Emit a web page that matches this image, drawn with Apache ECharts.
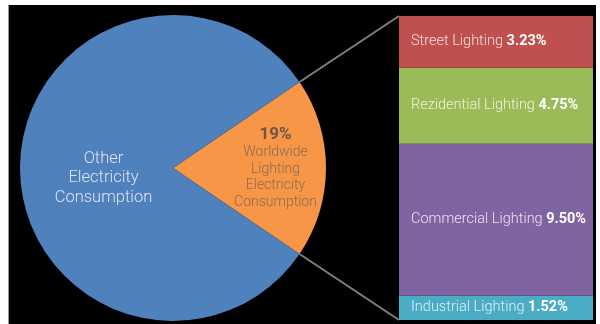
<!DOCTYPE html>
<html>
<head>
<meta charset="utf-8">
<script src="https://cdn.jsdelivr.net/npm/echarts@6/dist/echarts.min.js"></script>
<style>
  html, body { margin: 0; padding: 0; background: #fff; }
  #bg { position: absolute; left: 8px; top: 5px; width: 587px; height: 319px; background: #000; border-left: 1px solid #9a9a9a; }
  #chart { position: absolute; left: 0; top: 0; width: 600px; height: 324px; }
</style>
</head>
<body>
<div id="bg"></div>
<div id="chart"></div>
<script>
// pie: share of lighting in world electricity
const pieNames = ['Worldwide Lighting Electricity Consumption', 'Other Electricity Consumption'];
const pieValues = [19, 81];
const pieColors = ['#f79646', '#4f81bd'];

// breakdown bar, bottom to top
const barNames = ['Industrial Lighting', 'Commercial Lighting', 'Rezidential Lighting', 'Street Lighting'];
const barValues = [1.52, 9.50, 4.75, 3.23];
const barColors = ['#4bacc6', '#8064a2', '#9bbb59', '#c0504d'];

const FONT = 'Roboto, "Liberation Sans", sans-serif';
const W = 600, H = 324;
const pieCenter = [173, 168];
const pieRadius = 153;
const gridBox = { left: 399, right: 7, top: 16, bottom: 4 };
const pieTotal = pieValues.reduce((a, b) => a + b, 0);
const barTotal = barValues.reduce((a, b) => a + b, 0);
const halfAngle = pieValues[0] / pieTotal * 180;

// connector lines from the lighting slice edges to the bar corners
const rad = halfAngle * Math.PI / 180;
const sx = pieCenter[0] + pieRadius * Math.cos(rad);
const syTop = pieCenter[1] - pieRadius * Math.sin(rad);
const syBot = pieCenter[1] + pieRadius * Math.sin(rad);
const barTop = gridBox.top;
const barBot = H - gridBox.bottom;

const chart = echarts.init(document.getElementById('chart'));

const barSeries = barNames.map((name, i) => ({
  name: name,
  type: 'bar',
  stack: 'light',
  barWidth: '100%',
  silent: true,
  data: [barValues[i]],
  itemStyle: { color: barColors[i] },
  label: {
    show: true,
    position: 'insideLeft',
    distance: 12,
    formatter: p => '{n|' + name + ' }{v|' + p.value.toFixed(2) + '%}',
    rich: {
      n: { color: 'rgba(255,255,255,0.82)', fontSize: 14.5, fontFamily: FONT, fontWeight: 300 },
      v: { color: '#fff', fontSize: 14.5, fontFamily: FONT, fontWeight: 'bold' }
    }
  }
}));

const option = {
  backgroundColor: 'transparent',
  animation: false,
  grid: gridBox,
  xAxis: { type: 'category', data: ['Lighting'], show: false },
  yAxis: { type: 'value', min: 0, max: barTotal, show: false },
  graphic: [
    { type: 'line', z: -1, shape: { x1: sx, y1: syTop, x2: gridBox.left, y2: barTop }, style: { stroke: '#7f7f7f', lineWidth: 2 } },
    { type: 'line', z: -1, shape: { x1: sx, y1: syBot, x2: gridBox.left, y2: barBot }, style: { stroke: '#7f7f7f', lineWidth: 2 } }
  ],
  series: [
    {
      type: 'pie',
      center: pieCenter,
      radius: pieRadius,
      startAngle: halfAngle,
      clockwise: true,
      silent: true,
      labelLine: { show: false },
      itemStyle: { borderWidth: 0 },
      labelLayout: function (params) {
        if (params.dataIndex === 0) return { dx: 23, dy: 0 };
        return { dx: 10, dy: 10 };
      },
      data: pieNames.map((n, i) => ({
        name: n,
        value: pieValues[i],
        itemStyle: { color: pieColors[i], borderWidth: 0 },
        label: i === 0 ? {
          show: true,
          position: 'inside',
          formatter: p => '{p|' + p.value + '%}\n' + p.name.split(' ').map(w => '{t|' + w + '}').join('\n'),
          rich: {
            p: { color: '#6f5644', fontSize: 17, fontWeight: 'bold', fontFamily: FONT, lineHeight: 19 },
            t: { color: '#8a6c55', fontSize: 14, fontFamily: FONT, fontWeight: 300, lineHeight: 16.5 }
          }
        } : {
          show: true,
          position: 'inside',
          formatter: p => p.name.split(' ').join('\n'),
          color: '#dde5f1',
          fontSize: 16.5,
          fontFamily: FONT,
          fontWeight: 300,
          lineHeight: 19.5
        }
      }))
    }
  ].concat(barSeries)
};
chart.setOption(option);
</script>
</body>
</html>
